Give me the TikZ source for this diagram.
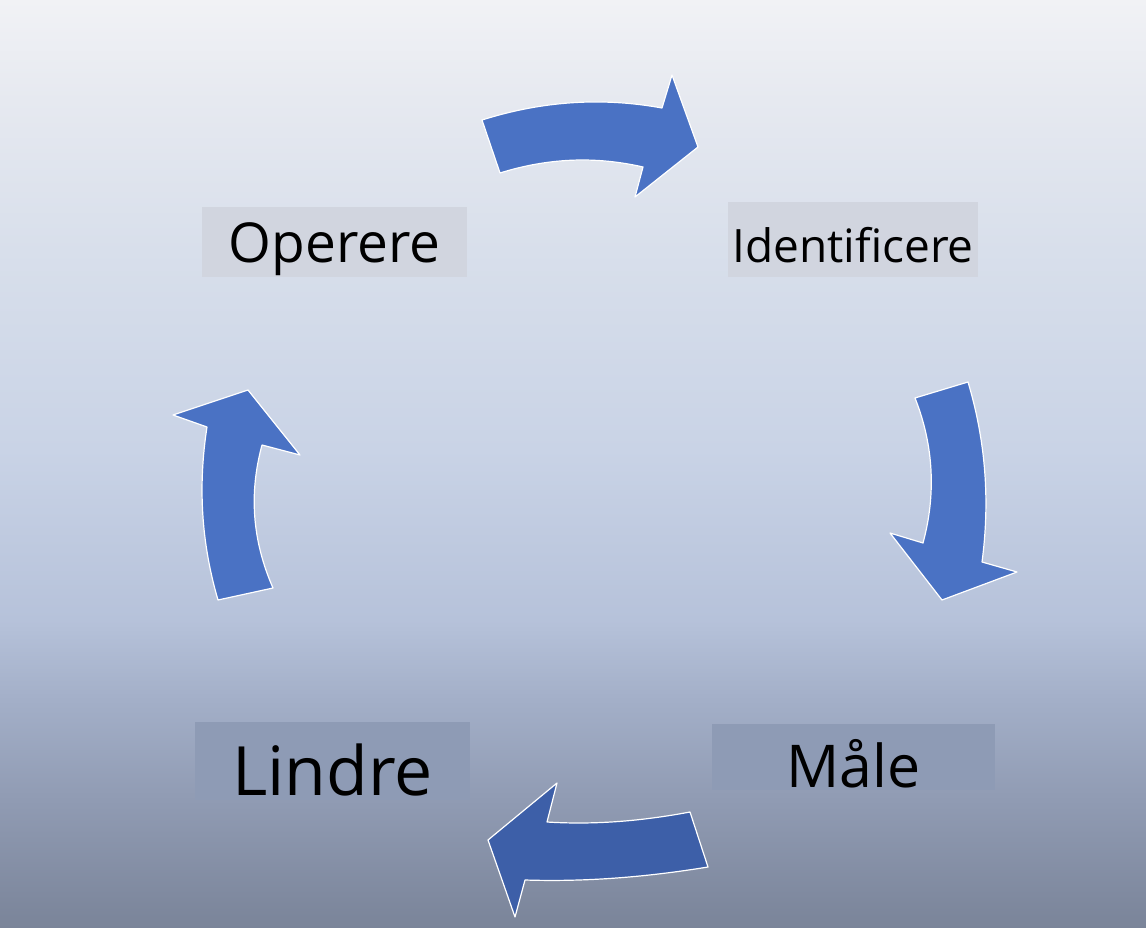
\documentclass[tikz,border=0pt]{standalone}
\usepackage{fontspec}
\setmainfont{Open Sans}
\usepackage{xcolor}
\usepackage{tikz}
\usetikzlibrary{positioning,calc}
\definecolor{bgtop}{HTML}{F1F2F5}
\definecolor{bgupper}{HTML}{E6E9F0}
\definecolor{bgmid}{HTML}{D8DFEB}
\definecolor{bgcentre}{HTML}{C9D3E6}
\definecolor{bglow}{HTML}{B6C2DA}
\definecolor{bglower}{HTML}{A3AFC8}
\definecolor{bgdeep}{HTML}{909BB3}
\definecolor{bgbottom}{HTML}{7A8499}
\definecolor{cycleblue}{HTML}{4A72C4}
\definecolor{cycledark}{HTML}{3D5FA8}
\definecolor{lightbox}{HTML}{D1D5DF}
\definecolor{darkbox}{HTML}{8E9BB5}
\pgfdeclareverticalshading{bgfade}{100bp}{color(0bp)=(bgbottom); color(25bp)=(bgbottom);
  color(31.9bp)=(bgdeep); color(37.3bp)=(bglower); color(41.6bp)=(bglow);
  color(50.8bp)=(bgcentre); color(61.5bp)=(bgmid); color(69.6bp)=(bgupper);
  color(75bp)=(bgtop); color(100bp)=(bgtop)}

\begin{document}
\begin{tikzpicture}[x=1pt,y=-1pt,
  labelbox/.style={inner sep=0pt, text=black},
  cyclearrow/.style={fill=cycleblue, draw=white, line width=1.2pt, line join=round}]
\useasboundingbox (0,0) rectangle (1146,928);
\shade[shading=bgfade] (0,0) rectangle (1146,928);

\node[labelbox, fill=lightbox, minimum width=265pt, minimum height=70pt, text height=45pt, text depth=5pt,
  font=\fontsize{55}{60}\selectfont] (operere) at (334.5,242) {Operere};
\node[labelbox, fill=lightbox, minimum width=250pt, minimum height=75pt, text height=50pt, text depth=5pt,
  font=\fontsize{46}{50}\selectfont] (identificere) at (853,239.5) {Identificere};
\node[labelbox, fill=darkbox, minimum width=283pt, minimum height=66pt, text height=62pt, text depth=2pt,
  font=\fontsize{59}{64}\selectfont] (maale) at (853.5,757) {Måle};
\node[labelbox, fill=darkbox, minimum width=275pt, minimum height=78pt, text height=70pt, text depth=2pt,
  font=\fontsize{68}{74}\selectfont] (lindre) at (332.5,761) {Lindre};

\draw[cyclearrow] (482,120) .. controls (542,101) and (602,97) .. (662,108) -- (672,75) -- (698,147)
  -- (635,197) -- (643,167) .. controls (595,156) and (548,158) .. (500,173) -- cycle;
\draw[cyclearrow] (968,382) .. controls (986,442) and (990,502) .. (982,562) -- (1017,572) -- (942,600)
  -- (890,533) -- (923,543) .. controls (936,495) and (934,446) .. (915,398) -- cycle;
\draw[cyclearrow, fill=cycledark] (690,812) .. controls (642,821) and (595,825) .. (547,822) -- (557,783) -- (488,840)
  -- (515,917) -- (525,880) .. controls (586,882) and (647,877) .. (708,867) -- cycle;
\draw[cyclearrow] (273,588) .. controls (252,540) and (249,493) .. (262,445) -- (300,455) -- (248,390)
  -- (173,415) -- (207,427) .. controls (198,485) and (201,542) .. (218,600) -- cycle;
\end{tikzpicture}
\end{document}
